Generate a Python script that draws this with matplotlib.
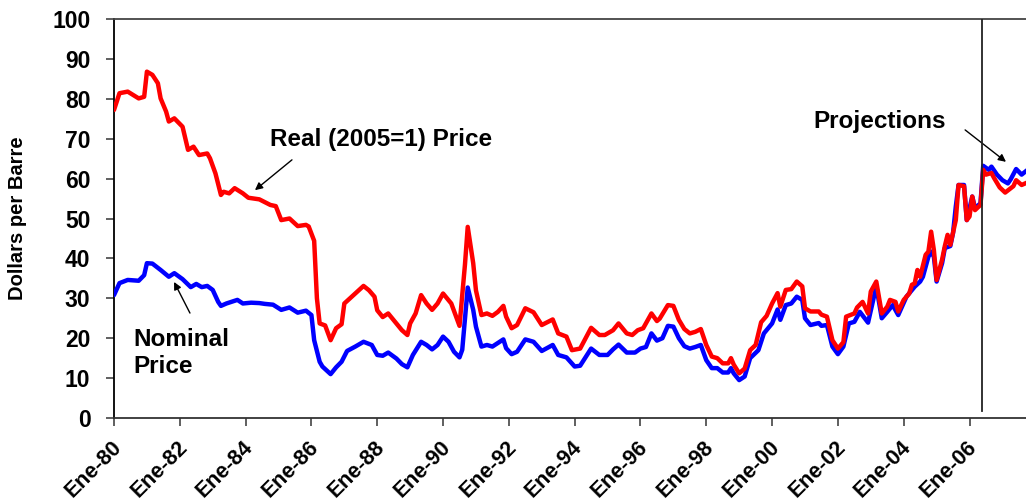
import matplotlib
matplotlib.use("Agg")
import matplotlib.pyplot as plt
from matplotlib.transforms import ScaledTranslation

plt.rcParams['font.family'] = ['Liberation Sans', 'DejaVu Sans']
plt.rcParams['font.weight'] = 'bold'

# Real price (2005 dollars), monthly readings
real_dates = [
    "1980-01", "1980-03", "1980-06", "1980-10", "1980-12", "1981-01", "1981-03", "1981-05",
    "1981-06", "1981-08", "1981-09", "1981-11", "1982-02", "1982-04", "1982-06", "1982-08",
    "1982-11", "1982-12", "1983-02", "1983-04", "1983-05", "1983-07", "1983-09", "1983-12",
    "1984-02", "1984-06", "1984-10", "1984-12", "1985-02", "1985-05", "1985-08", "1985-11",
    "1985-12", "1986-02", "1986-03", "1986-04", "1986-06", "1986-08", "1986-10", "1986-12",
    "1987-01", "1987-04", "1987-07", "1987-08", "1987-10", "1987-12", "1988-01", "1988-03",
    "1988-05", "1988-08", "1988-10", "1988-12", "1989-01", "1989-03", "1989-05", "1989-07",
    "1989-09", "1989-11", "1990-01", "1990-04", "1990-06", "1990-07", "1990-09", "1990-10",
    "1990-12", "1991-01", "1991-03", "1991-05", "1991-07", "1991-09", "1991-11", "1991-12",
    "1992-02", "1992-04", "1992-07", "1992-10", "1993-01", "1993-05", "1993-07", "1993-10",
    "1993-12", "1994-03", "1994-07", "1994-10", "1994-12", "1995-03", "1995-05", "1995-08",
    "1995-10", "1995-12", "1996-02", "1996-05", "1996-07", "1996-08", "1996-11", "1997-01",
    "1997-03", "1997-05", "1997-07", "1997-09", "1997-11", "1998-01", "1998-03", "1998-05",
    "1998-07", "1998-09", "1998-10", "1998-11", "1999-01", "1999-03", "1999-05", "1999-07",
    "1999-09", "1999-11", "2000-01", "2000-03", "2000-04", "2000-06", "2000-08", "2000-10",
    "2000-12", "2001-01", "2001-03", "2001-06", "2001-07", "2001-09", "2001-11", "2002-01",
    "2002-03", "2002-04", "2002-07", "2002-08", "2002-10", "2002-12", "2003-01", "2003-03",
    "2003-05", "2003-07", "2003-08", "2003-10", "2003-11", "2004-01", "2004-03", "2004-04",
    "2004-05", "2004-06", "2004-07", "2004-09", "2004-10", "2004-11", "2004-12", "2005-01",
    "2005-03", "2005-04", "2005-05", "2005-06", "2005-08", "2005-09", "2005-11", "2005-12",
    "2006-01", "2006-02", "2006-03", "2006-05", "2006-06", "2006-07", "2006-09", "2006-10",
    "2006-12", "2007-02", "2007-05", "2007-06", "2007-08", "2007-10",
]
real_price = [
    77.2, 81.4, 81.8, 80.1, 80.5, 86.8, 86.0, 83.9,
    80.1, 76.8, 74.3, 75.1, 73.0, 67.2, 68.0, 65.9,
    66.3, 65.1, 61.3, 55.9, 56.7, 56.3, 57.6, 56.3,
    55.2, 54.8, 53.4, 53.1, 49.6, 50.0, 48.1, 48.4,
    48.0, 44.4, 30.0, 23.7, 23.2, 19.5, 22.5, 23.5,
    28.7, 30.6, 32.5, 33.1, 32.0, 30.4, 27.0, 25.3,
    26.2, 23.7, 22.0, 20.8, 23.7, 26.2, 30.8, 28.7,
    27.1, 28.7, 31.2, 28.7, 25.0, 23.1, 38.5, 47.9,
    38.8, 32.0, 25.8, 26.2, 25.6, 26.6, 28.1, 25.4,
    22.5, 23.3, 27.5, 26.5, 23.3, 24.7, 21.2, 20.4,
    17.0, 17.4, 22.6, 20.8, 20.8, 22.0, 23.7, 21.2,
    20.8, 22.0, 22.5, 26.2, 24.3, 24.9, 28.3, 28.1,
    24.6, 22.3, 21.2, 21.6, 22.3, 18.3, 15.4, 15.0,
    13.7, 13.7, 15.0, 13.4, 11.2, 12.4, 17.0, 18.3,
    24.0, 25.6, 28.7, 31.3, 27.9, 32.1, 32.3, 34.2,
    33.0, 27.5, 26.7, 26.7, 25.9, 25.4, 19.5, 17.4,
    19.0, 25.4, 26.2, 27.7, 29.1, 26.2, 31.7, 34.2,
    26.2, 27.9, 29.6, 29.1, 26.7, 29.6, 31.2, 33.4,
    33.7, 37.1, 35.4, 40.9, 41.7, 46.7, 42.1, 34.6,
    39.7, 43.1, 45.9, 43.4, 49.6, 58.4, 58.1, 49.6,
    50.5, 55.5, 52.1, 53.4, 62.2, 61.0, 61.4, 60.1,
    57.8, 56.5, 58.1, 59.6, 58.4, 59.0,
]

# Nominal price, monthly readings
nominal_dates = [
    "1980-01", "1980-03", "1980-06", "1980-10", "1980-12", "1981-01", "1981-03", "1981-06",
    "1981-09", "1981-11", "1982-02", "1982-05", "1982-07", "1982-09", "1982-11", "1983-01",
    "1983-03", "1983-04", "1983-06", "1983-10", "1983-12", "1984-03", "1984-06", "1984-08",
    "1984-11", "1985-02", "1985-05", "1985-08", "1985-11", "1986-01", "1986-02", "1986-04",
    "1986-05", "1986-08", "1986-10", "1986-12", "1987-02", "1987-05", "1987-08", "1987-11",
    "1988-01", "1988-03", "1988-05", "1988-08", "1988-10", "1988-12", "1989-02", "1989-05",
    "1989-07", "1989-09", "1989-11", "1990-01", "1990-03", "1990-05", "1990-07", "1990-08",
    "1990-10", "1990-12", "1991-01", "1991-03", "1991-05", "1991-07", "1991-11", "1991-12",
    "1992-02", "1992-04", "1992-07", "1992-10", "1993-01", "1993-05", "1993-07", "1993-10",
    "1994-01", "1994-03", "1994-07", "1994-10", "1995-01", "1995-03", "1995-05", "1995-08",
    "1995-11", "1996-01", "1996-03", "1996-05", "1996-07", "1996-09", "1996-11", "1997-01",
    "1997-03", "1997-05", "1997-07", "1997-09", "1997-11", "1998-01", "1998-03", "1998-05",
    "1998-07", "1998-09", "1998-10", "1998-11", "1999-01", "1999-03", "1999-05", "1999-08",
    "1999-10", "2000-01", "2000-03", "2000-04", "2000-06", "2000-08", "2000-10", "2000-12",
    "2001-01", "2001-03", "2001-06", "2001-07", "2001-09", "2001-11", "2002-01", "2002-03",
    "2002-05", "2002-07", "2002-09", "2002-12", "2003-03", "2003-05", "2003-07", "2003-09",
    "2003-11", "2004-02", "2004-05", "2004-07", "2004-08", "2004-10", "2004-11", "2004-12",
    "2005-01", "2005-03", "2005-04", "2005-06", "2005-07", "2005-08", "2005-09", "2005-11",
    "2005-12", "2006-02", "2006-03", "2006-05", "2006-06", "2006-08", "2006-09", "2006-11",
    "2007-01", "2007-03", "2007-04", "2007-06", "2007-08", "2007-10",
]
nominal_price = [
    30.8, 33.8, 34.6, 34.4, 35.8, 38.8, 38.7, 37.1,
    35.4, 36.3, 34.8, 32.8, 33.6, 32.8, 33.1, 32.1,
    29.1, 28.1, 28.7, 29.6, 28.7, 28.9, 28.8, 28.6,
    28.4, 27.1, 27.7, 26.4, 26.9, 25.8, 19.5, 14.1,
    12.9, 11.0, 12.7, 14.1, 16.8, 17.9, 19.1, 18.3,
    15.8, 15.6, 16.4, 14.9, 13.5, 12.7, 15.8, 19.1,
    18.3, 17.2, 18.3, 20.4, 19.1, 16.6, 15.2, 17.1,
    32.7, 27.1, 22.9, 17.9, 18.3, 17.9, 19.7, 17.5,
    16.0, 16.6, 19.7, 19.1, 16.8, 18.3, 15.8, 15.2,
    12.9, 13.1, 17.4, 15.8, 15.8, 17.2, 18.4, 16.4,
    16.4, 17.4, 17.8, 21.2, 19.4, 20.0, 23.1, 22.9,
    20.0, 18.0, 17.4, 17.8, 18.3, 14.5, 12.5, 12.5,
    11.4, 11.4, 12.5, 11.2, 9.5, 10.4, 15.0, 17.0,
    21.2, 23.7, 27.2, 24.6, 28.3, 28.7, 30.4, 29.6,
    25.0, 23.3, 23.8, 23.1, 23.3, 17.9, 16.0, 17.9,
    23.7, 24.1, 26.6, 23.9, 33.0, 25.0, 26.6, 28.3,
    25.8, 30.4, 32.9, 34.2, 35.4, 40.4, 41.7, 40.4,
    34.2, 38.8, 42.6, 43.1, 46.4, 53.0, 58.4, 58.4,
    49.6, 55.5, 52.6, 53.8, 63.2, 62.2, 63.0, 61.0,
    59.6, 58.8, 59.8, 62.4, 61.0, 62.1,
]

tick_years = list(range(1980, 2008, 2))
tick_labels = ["Ene-%02d" % (y % 100) for y in tick_years]
projection_start = "2006-05"
axis_end = "2007-09"


def month_index(s):
    y, m = s.split("-")
    return (int(y) - 1980) * 12 + int(m) - 1


real_x = [month_index(d) for d in real_dates]
nominal_x = [month_index(d) for d in nominal_dates]

fig = plt.figure(figsize=(10.26, 5.04), dpi=100)
ax = fig.add_axes([114 / 1026, 86 / 504, 912 / 1026, 399 / 504])

ax.plot(nominal_x, nominal_price, color="#0000FF", lw=3.2,
        solid_joinstyle="round", solid_capstyle="round", zorder=3)
ax.plot(real_x, real_price, color="#FF0000", lw=3.2,
        solid_joinstyle="round", solid_capstyle="round", zorder=4)

ax.set_xlim(0, month_index(axis_end) + 0.6)
ax.set_ylim(0, 100)

ax.axvline(month_index(projection_start) + 0.7, ymin=0.017, ymax=1.0,
           color="#222222", lw=1.3, zorder=5)

# spines
ax.spines["right"].set_visible(False)
ax.spines["left"].set_color("black")
ax.spines["left"].set_linewidth(1.3)
ax.spines["bottom"].set_color("#333333")
ax.spines["bottom"].set_linewidth(1.3)
ax.spines["top"].set_color("#444444")
ax.spines["top"].set_linewidth(1.3)

ax.set_yticks(range(0, 101, 10))
ax.set_xticks([(y - 1980) * 12 for y in tick_years])
ax.set_xticklabels(tick_labels, rotation=45, ha="right", va="top",
                   rotation_mode="anchor")
ax.tick_params(axis="y", direction="out", length=6, width=1.2, color="#444444",
               labelsize=16.5, pad=11)
ax.tick_params(axis="x", direction="out", length=6, width=1.2, color="#444444",
               labelsize=15.5, pad=6)
shift = ScaledTranslation(-3 / 100, -2 / 100, fig.dpi_scale_trans)
for lbl in ax.get_xticklabels():
    lbl.set_fontweight("bold")
    lbl.set_transform(lbl.get_transform() + shift)
for lbl in ax.get_yticklabels():
    lbl.set_fontweight("bold")

ax.set_ylabel("Dollars per Barre", fontsize=14.5, fontweight="bold")
ax.yaxis.set_label_coords(-0.095, 0.5)

# annotations
txt_kw = dict(fontsize=17.5, fontweight="bold", color="black", zorder=6)
arrow_kw = dict(arrowstyle="-|>", color="black", lw=1.0, mutation_scale=11,
                shrinkA=0, shrinkB=0)

ax.text(56.9, 69.7, "Real (2005=1) Price", ha="left", va="center", **txt_kw)
ax.annotate("", xy=(51.4, 57.1), xytext=(64.9, 64.7), arrowprops=arrow_kw)

ax.text(6.9, 16.3, "Nominal\nPrice", ha="left", va="center", linespacing=1.2, **txt_kw)
ax.annotate("", xy=(21.9, 34.1), xytext=(27.7, 26.3), arrowprops=arrow_kw)

ax.text(254.9, 74.2, "Projections", ha="left", va="center", **txt_kw)
ax.annotate("", xy=(325.3, 64.2), xytext=(310.4, 72.2), arrowprops=arrow_kw)

fig.savefig("out.png", dpi=100)
